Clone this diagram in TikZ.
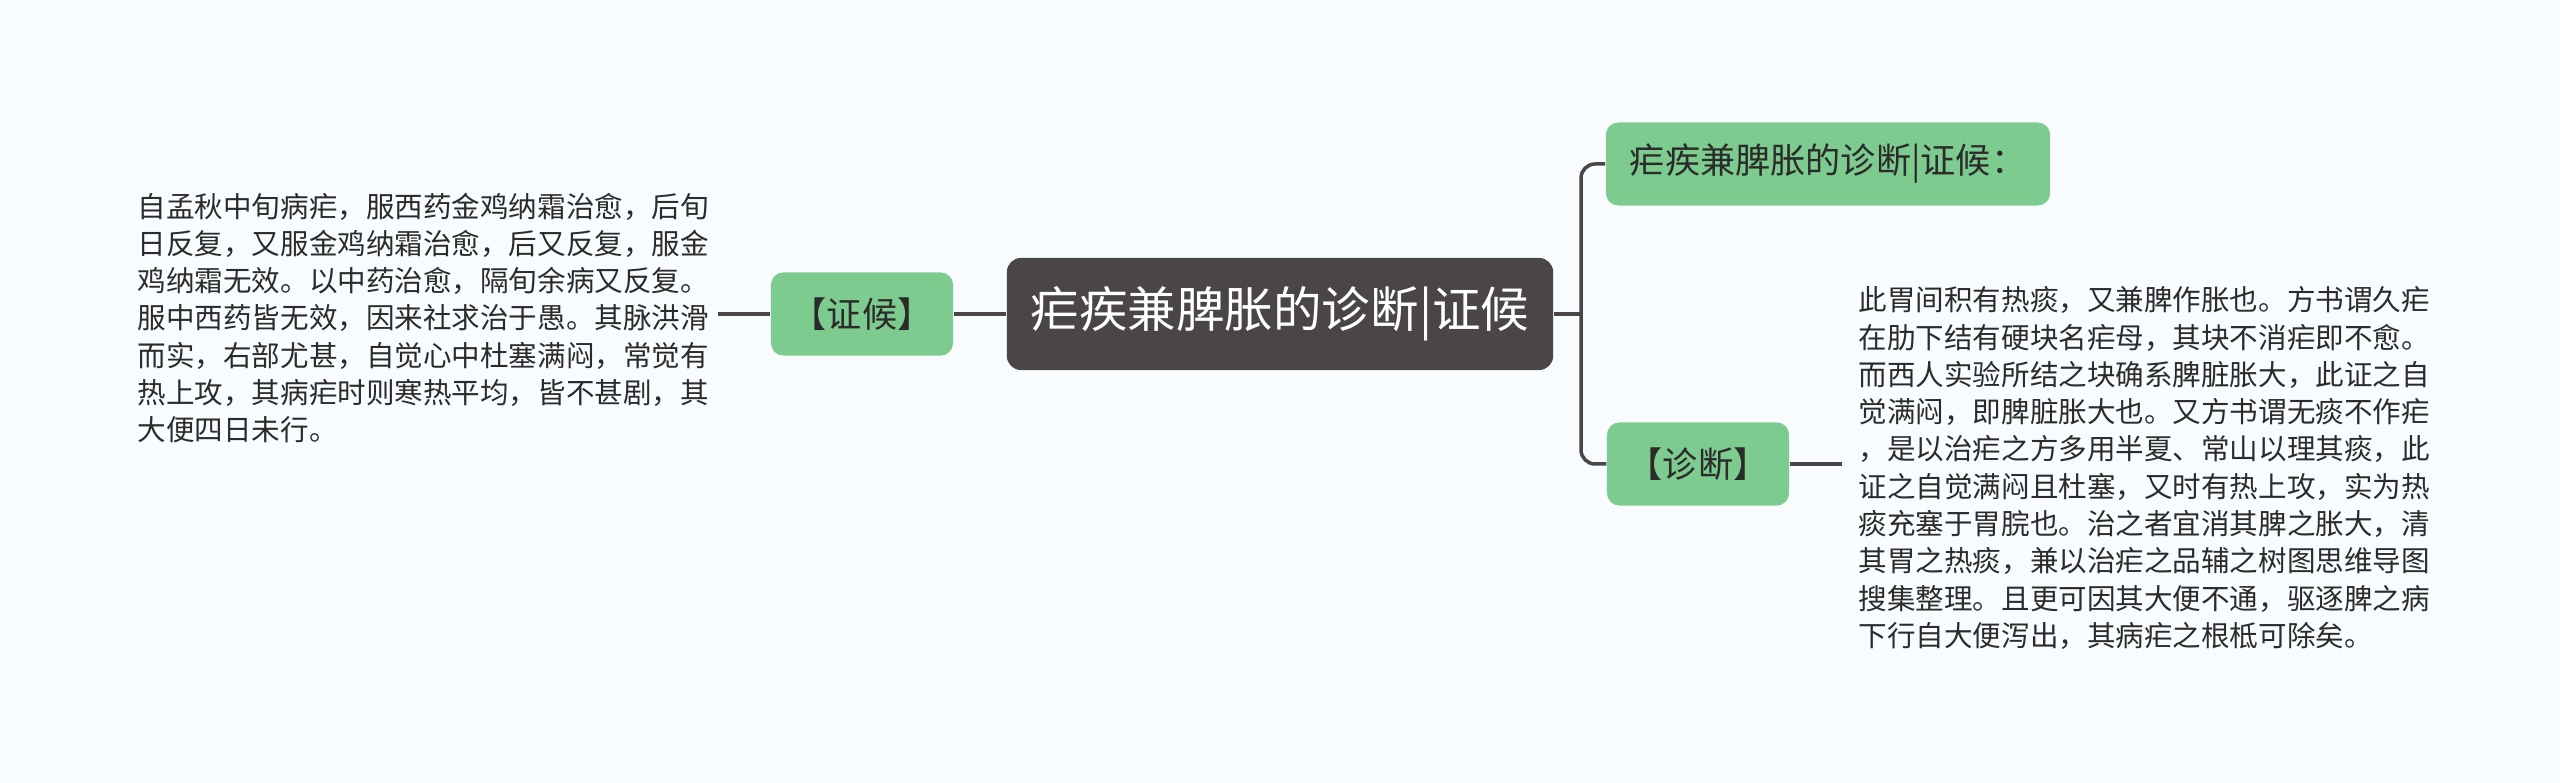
\documentclass[tikz,border=0pt]{standalone}
\usepackage{fontspec}
\setmainfont{Noto Sans CJK SC}
\usetikzlibrary{positioning}
\definecolor{rootgray}{HTML}{4B4646}
\definecolor{topicgreen}{HTML}{7DCB8F}
\definecolor{paper}{HTML}{F8FCFE}
\definecolor{inkgray}{HTML}{2B2B2B}
\tikzset{
  root/.style={fill=rootgray, rounded corners=4pt, text=white, font=\fontsize{13.8pt}{16pt}\selectfont, minimum width=5.46cm, minimum height=1.12cm, inner sep=0pt},
  topic/.style={fill=topicgreen, rounded corners=3.5pt, text=inkgray, font=\fontsize{10pt}{12pt}\selectfont, minimum height=0.83cm, inner sep=0pt},
  note/.style={align=left, inner sep=0pt, text=inkgray, font=\fontsize{8.12pt}{10.6pt}\selectfont},
  link/.style={draw=rootgray, line width=1pt}
}
\begin{document}
\begin{tikzpicture}[x=0.01cm, y=-0.01cm]
\useasboundingbox[fill=paper] (0,0) rectangle (2560,783);
% centre and first level
\node[root] (root) at (1280,314) {疟疾兼脾胀的诊断|证候};
\node[topic, minimum width=1.82cm] (zhenghou) at (862,314) {【证候】};
\node[topic, minimum width=4.44cm] (title) at (1828,164) {疟疾兼脾胀的诊断|证候：};
\node[topic, minimum width=1.82cm] (zhenduan) at (1698,464) {【诊断】};
% notes
\node[note, anchor=west] (leftnote) at (137,318) {自孟秋中旬病疟，服西药金鸡纳霜治愈，后旬\\日反复，又服金鸡纳霜治愈，后又反复，服金\\鸡纳霜无效。以中药治愈，隔旬余病又反复。\\服中西药皆无效，因来社求治于愚。其脉洪滑\\而实，右部尤甚，自觉心中杜塞满闷，常觉有\\热上攻，其病疟时则寒热平均，皆不甚剧，其\\大便四日未行。};
\node[note, anchor=west] (rightnote) at (1858,468) {此胃间积有热痰，又兼脾作胀也。方书谓久疟\\在肋下结有硬块名疟母，其块不消疟即不愈。\\而西人实验所结之块确系脾脏胀大，此证之自\\觉满闷，即脾脏胀大也。又方书谓无痰不作疟\\，是以治疟之方多用半夏、常山以理其痰，此\\证之自觉满闷且杜塞，又时有热上攻，实为热\\痰充塞于胃脘也。治之者宜消其脾之胀大，清\\其胃之热痰，兼以治疟之品辅之树图思维导图\\搜集整理。且更可因其大便不通，驱逐脾之病\\下行自大便泻出，其病疟之根柢可除矣。};
% connectors
\coordinate (fork) at (1581,314);
\coordinate (leftend) at (718,314);
\coordinate (rightend) at (1842,464);
\draw[link] (root.west) -- (zhenghou.east);
\draw[link] (zhenghou.west) -- (leftend);
\draw[link] (root.east) -- (fork);
\draw[link, rounded corners=4pt] (title.west) -| (fork) |- (zhenduan.west);
\draw[link] (zhenduan.east) -- (rightend);
\end{tikzpicture}
\end{document}
